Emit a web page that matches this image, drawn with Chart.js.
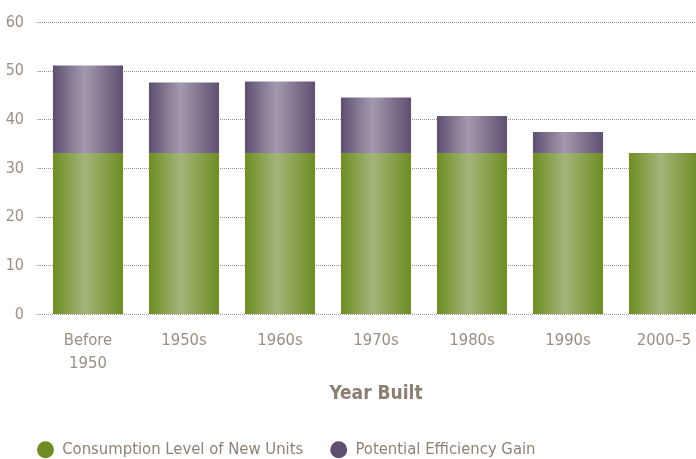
<!DOCTYPE html>
<html>
<head>
<meta charset="utf-8">
<script src="https://cdn.jsdelivr.net/npm/chart.js@4"></script>
<style>
	html, body { margin: 0; padding: 0; background: #ffffff; overflow: hidden; }
	.frame { width: 696px; height: 459px; overflow: hidden; position: relative; }
	#myChart { display: block; }
</style>
</head>
<body>
<div class="frame">
	<canvas id="myChart" width="712" height="468"></canvas>
</div>
<script>
// values
const yearsBuilt = [['Before', '1950'], '1950s', '1960s', '1970s', '1980s', '1990s', '2000\u20135'];
const newUnitLevel = [33.2, 33.2, 33.2, 33.2, 33.2, 33.2, 33.2];
const efficiencyGain = [18.0, 14.5, 14.7, 11.4, 7.6, 4.3, 0];
const yTicks = [0, 10, 20, 30, 40, 50, 60];

const seriesNames = ['Consumption Level of New Units', 'Potential Efficiency Gain'];
const solidColors = ['#6f8d23', '#5e4f70'];
const midColors = ['#a4b57a', '#a39aae'];

const FONT = "'DejaVu Sans Condensed', 'Liberation Sans Narrow', sans-serif";
const BAR_PCT = 0.73;

// horizontal shine across each bar
function barFill(context, i) {
	const chart = context.chart;
	const xs = chart.scales.x;
	if (!xs || !xs.width) return solidColors[i];
	const c = xs.getPixelForValue(context.dataIndex);
	const half = xs.width / yearsBuilt.length * BAR_PCT / 2;
	const g = chart.ctx.createLinearGradient(c - half, 0, c + half, 0);
	g.addColorStop(0, solidColors[i]);
	g.addColorStop(0.45, midColors[i]);
	g.addColorStop(1, solidColors[i]);
	return g;
}

const ctx = document.getElementById('myChart').getContext('2d');

const myChart = new Chart(ctx, {
	type: 'bar',
	data: {
		labels: yearsBuilt,
		datasets: [{
			label: seriesNames[0],
			data: newUnitLevel,
			backgroundColor: (c) => barFill(c, 0),
			borderWidth: 0
		}, {
			label: seriesNames[1],
			data: efficiencyGain,
			backgroundColor: (c) => barFill(c, 1),
			borderWidth: 0
		}]
	},
	options: {
		responsive: false,
		animation: false,
		categoryPercentage: 1,
		barPercentage: BAR_PCT,
		layout: { padding: { top: 18, left: 0, right: 0, bottom: 0 } },
		scales: {
			x: {
				stacked: true,
				grid: { display: false, drawTicks: false },
				border: { display: false },
				ticks: {
					color: '#9b8f83',
					font: { family: FONT, size: 16.5, lineHeight: 1.4 },
					padding: 15,
					maxRotation: 0,
					autoSkip: false
				},
				title: {
					display: true,
					text: 'Year Built',
					color: '#8c7e71',
					font: { family: FONT, size: 19, weight: 'bold', lineHeight: 1.2 },
					padding: { top: 0, bottom: 9 }
				},
				afterFit: (scale) => { scale.height = 100; }
			},
			y: {
				stacked: true,
				min: 0,
				max: 60,
				afterBuildTicks: (scale) => { scale.ticks = yTicks.map(v => ({ value: v })); },
				grid: {
					color: '#a39689',
					lineWidth: 1,
					drawTicks: true,
					tickLength: 3,
					tickColor: '#a39689',
					tickBorderDash: [1, 1]
				},
				border: { display: false, dash: [1, 1] },
				ticks: {
					color: '#9b8f83',
					font: { family: FONT, size: 16 },
					padding: 13
				},
				afterFit: (scale) => { scale.width = 40; }
			}
		},
		plugins: {
			legend: {
				position: 'bottom',
				align: 'start',
				labels: {
					usePointStyle: true,
					pointStyle: 'circle',
					pointStyleWidth: 17,
					boxHeight: 12,
					padding: 27,
					color: '#8f8275',
					font: { family: FONT, size: 16.5 },
					generateLabels: (chart) => {
						const items = Chart.defaults.plugins.legend.labels.generateLabels(chart);
						items.forEach((it, i) => {
							it.fillStyle = solidColors[i];
							it.strokeStyle = solidColors[i];
							it.lineWidth = 0;
							it.pointStyle = 'circle';
						});
						return items;
					}
				}
			},
			tooltip: { enabled: false }
		}
	},
	plugins: [{
		// legend row starts a little in from the left edge
		id: 'legendIndent',
		afterLayout: (chart) => {
			chart.legend.left += 10;
			chart.legend.right += 10;
		}
	}]
});
</script>
</body>
</html>
